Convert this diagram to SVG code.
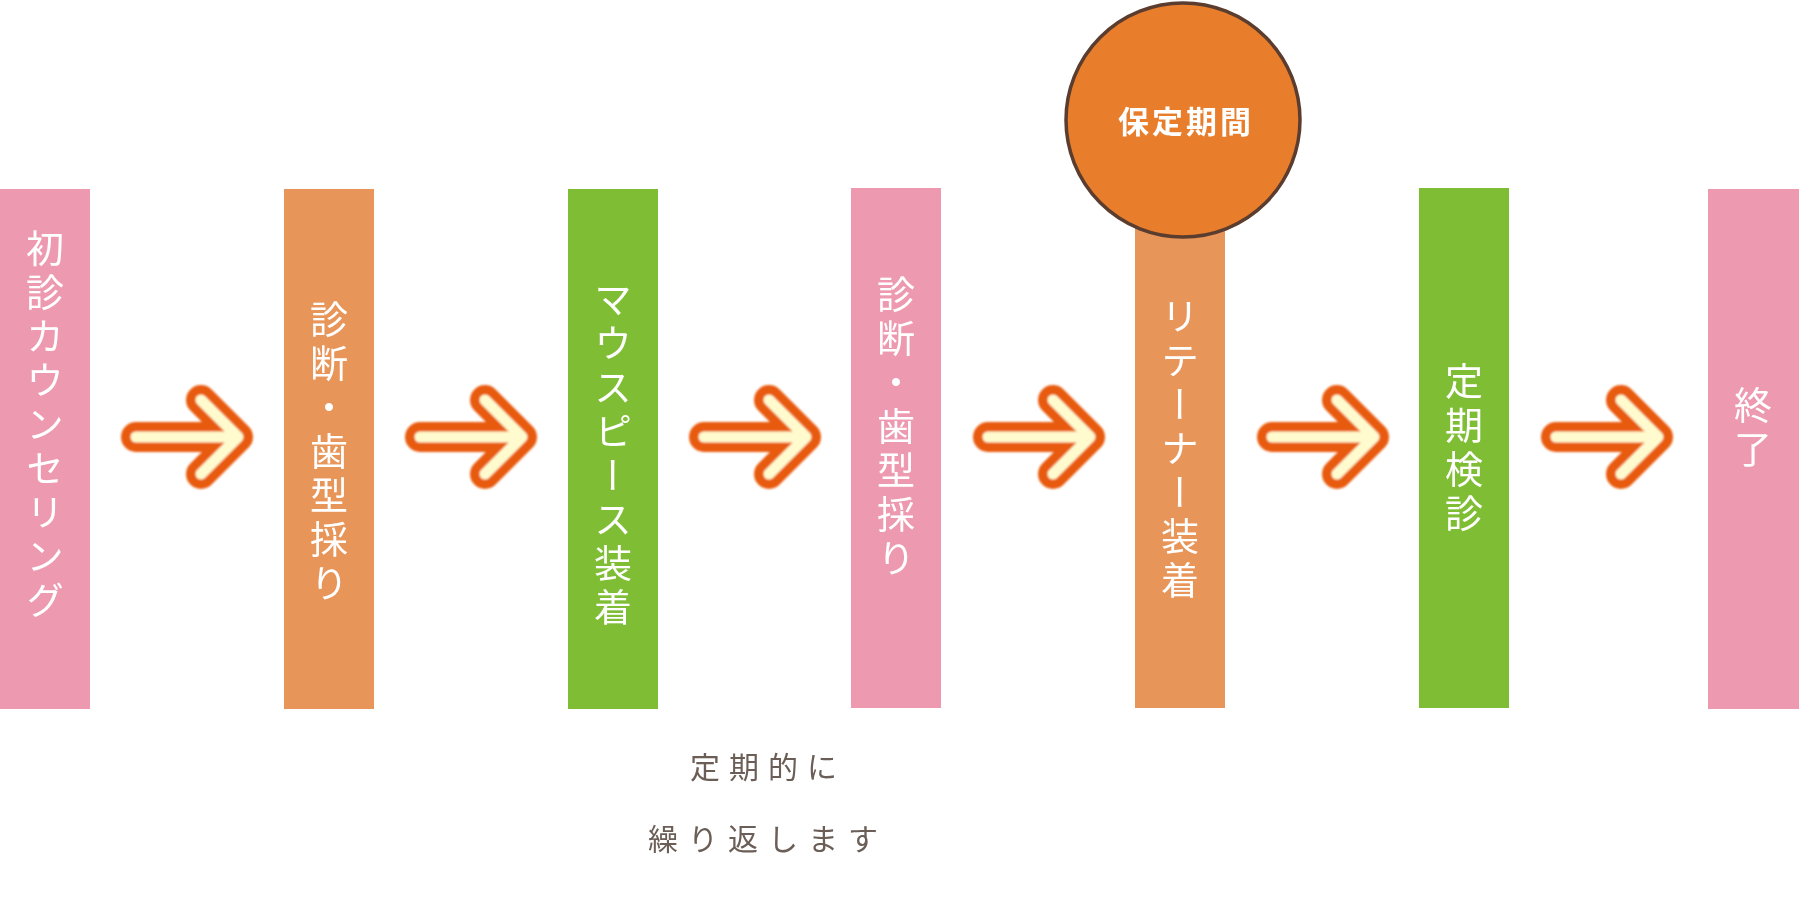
<svg xmlns="http://www.w3.org/2000/svg" width="1799" height="921" viewBox="0 0 1799 921">
<style>
.pink{fill:#ED9AB0}
.orange{fill:#E8955A}
.green{fill:#7FBE34}
.vt{fill:#ffffff;font-family:"Noto Sans CJK JP","Noto Sans",sans-serif;font-size:38px;writing-mode:vertical-rl;text-anchor:start;letter-spacing:6px}
.arrOut{fill:none;stroke:#E85A0C;stroke-width:30;stroke-linecap:round;stroke-linejoin:round}
.arrIn{fill:none;stroke:#FFFBCF;stroke-width:11;stroke-linecap:round;stroke-linejoin:round}
.note{fill:#6B5E56;font-family:"Noto Sans CJK JP","Noto Sans",sans-serif;font-size:30px;text-anchor:middle}
</style>
<defs>
<filter id="soft" filterUnits="userSpaceOnUse" x="0" y="360" width="1799" height="160"><feGaussianBlur stdDeviation="0.9"/></filter>
<g id="arrow">
<path class="arrOut" d="M136,437 L238,437 M201,400 L238,437 L201,474"/>
<path class="arrIn" d="M136,437 L238,437 M201,400 L238,437 L201,474"/>
</g>
</defs>
<rect width="1799" height="921" fill="#ffffff"/>
<g id="connectors" filter="url(#soft)">
<use href="#arrow"/>
<use href="#arrow" x="284"/>
<use href="#arrow" x="568"/>
<use href="#arrow" x="852"/>
<use href="#arrow" x="1136"/>
<use href="#arrow" x="1420"/>
</g>
<g id="n1"><rect class="pink" x="0" y="189" width="90" height="520"/><text class="vt" x="45" y="229">初診カウンセリング</text></g>
<g id="n2"><rect class="orange" x="284" y="189" width="90" height="520"/><text class="vt" x="329" y="300">診断・歯型採り</text></g>
<g id="n3"><rect class="green" x="568" y="189" width="90" height="520"/><text class="vt" x="613" y="280">マウスピース装着</text></g>
<g id="n4"><rect class="pink" x="851" y="188" width="90" height="520"/><text class="vt" x="896" y="275">診断・歯型採り</text></g>
<g id="n5"><rect class="orange" x="1135" y="188" width="90" height="520"/><text class="vt" x="1180" y="297">リテーナー装着</text></g>
<g id="n5b"><circle cx="1183" cy="120" r="117" fill="#E87D2B" stroke="#5A3D2F" stroke-width="3.5"/><text x="1186" y="133" fill="#ffffff" font-family="'Noto Sans CJK JP','Noto Sans',sans-serif" font-size="31" font-weight="bold" text-anchor="middle" letter-spacing="3">保定期間</text></g>
<g id="n6"><rect class="green" x="1419" y="188" width="90" height="520"/><text class="vt" x="1464" y="362">定期検診</text></g>
<g id="n7"><rect class="pink" x="1708" y="189" width="91" height="520"/><text class="vt" x="1753" y="386">終了</text></g>
<g id="note"><text class="note" x="768" y="778" letter-spacing="9">定期的に</text><text class="note" x="768" y="850" letter-spacing="10">繰り返します</text></g>
</svg>
